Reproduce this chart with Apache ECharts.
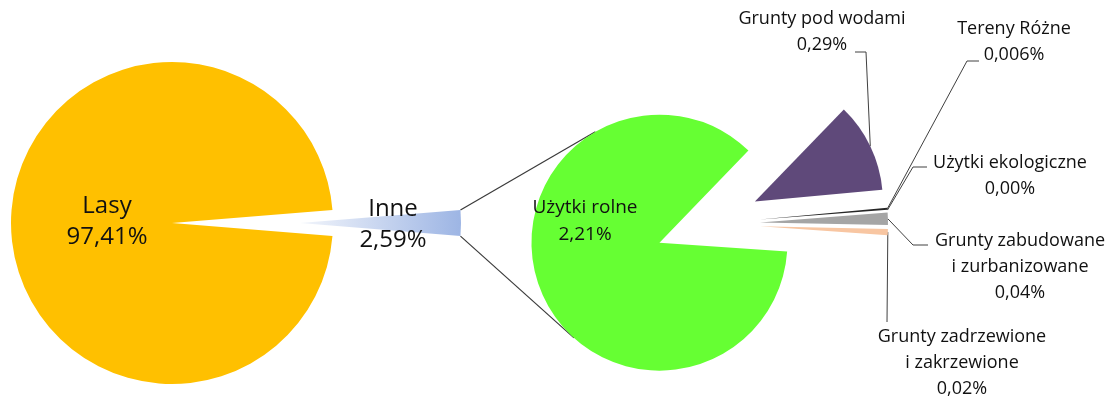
<!DOCTYPE html>
<html>
<head>
<meta charset="utf-8">
<title>Struktura użytkowania gruntów</title>
<script src="https://cdn.jsdelivr.net/npm/echarts@6/dist/echarts.min.js"></script>
<style>
  html, body { margin: 0; padding: 0; background: #ffffff; }
  #chart { width: 1118px; height: 401px; }
</style>
</head>
<body>
<div id="chart"></div>
<script>
// udział w powierzchni ogółem (%)
const mainNames = ['Lasy', 'Inne'];
const mainValues = [97.41, 2.59];

// rozbicie kategorii "Inne"
const subNames = [
  'Grunty pod wodami',
  'Tereny Różne',
  'Użytki ekologiczne',
  'Grunty zabudowane\ni zurbanizowane',
  'Grunty zadrzewione\ni zakrzewione',
  'Użytki rolne'
];
const subValues = [0.29, 0.006, 0, 0.04, 0.02, 2.21];

const mainColors = [
  '#FFC000',
  new echarts.graphic.LinearGradient(0, 0, 1, 0, [
    { offset: 0, color: '#f2f5fb' },
    { offset: 1, color: '#9db5e4' }
  ])
];
const subColors = ['#5F497A', '#262626', '#7F7F7F', '#A5A5A5', '#F8C6A2', '#66FF33'];

// geometria (px)
const mainPie = { cx: 236, cy: 223, r: 161, explode: 64 };
const subPie = { cx: 708, cy: 224, r: 128, explode: 52, gapCenter: 21 };

// pozycje etykiet: [x, y] środka, + załamanie i koniec linii odniesienia
const mainLabelPos = [[107, 222], [393, 225]];
const subLabelPos = [
  { at: [822, 32], bend: [866, 52], end: [855, 52] },
  { at: [1014, 42], bend: [967, 61], end: [979, 61] },
  { at: [1010, 176], bend: [913, 167], end: [927, 167] },
  { at: [1020, 267], bend: [913, 245], end: [928, 245] },
  { at: [962, 363], bend: [887, 322], end: [887, 322] },
  { at: [585, 221] }
];

const pct = v => v.toFixed(v > 0 && v < 0.01 ? 3 : 2).replace('.', ',') + '%';
const sum = arr => arr.reduce((a, b) => a + b, 0);
const rad = d => d * Math.PI / 180;

function slices(values, startAngle, geo) {
  const total = sum(values);
  let acc = 0;
  return values.map(v => {
    const a0 = startAngle - acc / total * 360;
    acc += v;
    const a1 = startAngle - acc / total * 360;
    const mid = rad((a0 + a1) / 2);
    return {
      a0, a1,
      cx: geo.cx + geo.explode * Math.cos(mid),
      cy: geo.cy - geo.explode * Math.sin(mid)
    };
  });
}

const mainStart = -(mainValues[1] / sum(mainValues) * 360) / 2;
const gapAngle = (sum(subValues) - subValues[5]) / sum(subValues) * 360;
const subStart = subPie.gapCenter + gapAngle / 2;

const mainSlices = slices(mainValues, mainStart, mainPie);
const subSlices = slices(subValues, subStart, subPie);

const textBase = { color: '#111', fontFamily: 'Open Sans' };

function pieFor(names, values, colors, geo, startAngle, sl, i, labelCfg) {
  return {
    type: 'pie',
    silent: true,
    animation: false,
    center: [sl[i].cx, sl[i].cy],
    radius: [0, geo.r],
    startAngle: startAngle,
    clockwise: true,
    avoidLabelOverlap: false,
    emphasis: { disabled: true },
    label: Object.assign({ formatter: p => p.name + '\n' + pct(p.value) }, textBase, labelCfg.style),
    labelLine: { show: !!labelCfg.line, lineStyle: { color: '#404040', width: 1 }, length: 5, length2: 5 },
    labelLayout: params => {
      const out = { x: labelCfg.at[0], y: labelCfg.at[1], align: 'center', verticalAlign: 'middle' };
      if (labelCfg.line && params.labelLinePoints) {
        out.labelLinePoints = [params.labelLinePoints[0], labelCfg.bend, labelCfg.end];
      }
      return out;
    },
    data: values.map((v, j) => ({
      name: names[j],
      value: v,
      itemStyle: { color: j === i ? colors[j] : 'rgba(0,0,0,0)' },
      label: { show: j === i },
      labelLine: { show: j === i && !!labelCfg.line }
    }))
  };
}

const series = [];
mainValues.forEach((v, i) => {
  series.push(pieFor(mainNames, mainValues, mainColors, mainPie, mainStart, mainSlices, i, {
    at: mainLabelPos[i],
    style: { position: 'inside', fontSize: 24, lineHeight: 31 }
  }));
});
subValues.forEach((v, i) => {
  const lp = subLabelPos[i];
  const inside = !lp.bend;
  series.push(pieFor(subNames, subValues, subColors, subPie, subStart, subSlices, i, {
    at: lp.at,
    bend: lp.bend,
    end: lp.end,
    line: !inside,
    style: inside
      ? { position: 'inside', fontSize: 19, lineHeight: 27 }
      : { position: 'outside', fontSize: 18, lineHeight: 26 }
  }));
});

// linie łączące wycinek "Inne" z drugim wykresem (styczne do koła "Użytki rolne")
const inne = mainSlices[1];
const green = subSlices[5];
const connectors = [inne.a0, inne.a1].map((a, k) => {
  const px = inne.cx + mainPie.r * Math.cos(rad(a));
  const py = inne.cy - mainPie.r * Math.sin(rad(a));
  const dx = green.cx - px, dy = green.cy - py;
  const d = Math.sqrt(dx * dx + dy * dy);
  const phi = Math.atan2(dy, dx);
  const alpha = Math.asin(subPie.r / d);
  const L = Math.sqrt(d * d - subPie.r * subPie.r);
  const t = k === 0 ? phi - alpha : phi + alpha;
  return {
    type: 'line',
    silent: true,
    shape: { x1: px, y1: py, x2: px + L * Math.cos(t), y2: py + L * Math.sin(t) },
    style: { stroke: '#3a3a3a', lineWidth: 1.2 }
  };
});

const chart = echarts.init(document.getElementById('chart'));
chart.setOption({
  backgroundColor: '#ffffff',
  animation: false,
  graphic: connectors,
  series: series
});
</script>
</body>
</html>
